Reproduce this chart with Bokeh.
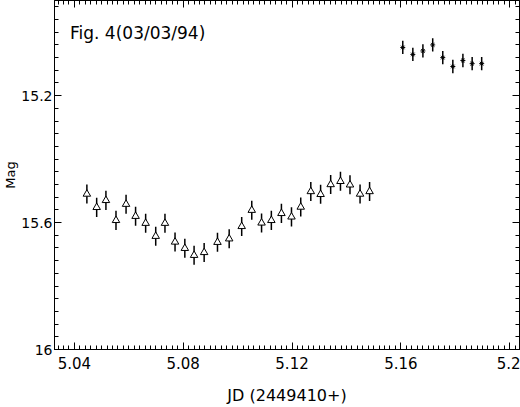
import numpy as np
from bokeh.plotting import figure
from bokeh.models import Range1d, LinearAxis, FixedTicker, ColumnDataSource, Label
from bokeh.embed import file_html
from bokeh.resources import INLINE

# ---- data ----
jd_tri = [5.0446, 5.0482, 5.0516, 5.0553, 5.0590, 5.0625, 5.0662, 5.0699, 5.0733,
          5.0770, 5.0806, 5.0840, 5.0877, 5.0926, 5.0969, 5.1015, 5.1052, 5.1088,
          5.1124, 5.1161, 5.1198, 5.1232, 5.1269, 5.1305, 5.1342, 5.1378, 5.1413,
          5.1450, 5.1485]
mag_tri = [15.510, 15.552, 15.530, 15.593, 15.542, 15.580, 15.602, 15.643, 15.602,
           15.661, 15.681, 15.703, 15.694, 15.662, 15.651, 15.612, 15.561, 15.601,
           15.593, 15.571, 15.582, 15.551, 15.502, 15.511, 15.480, 15.470, 15.481,
           15.510, 15.502]
err_tri = 0.030

jd_star = [5.1607, 5.1644, 5.1681, 5.1717, 5.1754, 5.1791, 5.1828, 5.1862, 5.1897]
mag_star = [15.048, 15.070, 15.059, 15.040, 15.080, 15.108, 15.089, 15.099, 15.099]
err_star = 0.021

x_major = [5.04, 5.08, 5.12, 5.16, 5.2]
x_labels = {5.2: "5.2"}
y_major = [15.2, 15.6, 16.0]
y_labels = {16: "16"}

title_text = "Fig. 4(03/03/94)"
x_title = "JD (2449410+)"
y_title = "Mag"

FONT = "DejaVu Sans"

p = figure(width=520, height=407, output_backend="svg", toolbar_location=None,
           x_range=Range1d(5.0327, 5.2036), y_range=Range1d(16.0, 14.9),
           x_axis_location=None, y_axis_location=None,
           min_border_left=46, min_border_right=1, min_border_top=0, min_border_bottom=0)
p.background_fill_color = "white"
p.border_fill_color = "white"
p.outline_line_color = "black"
p.grid.visible = False

x_minor = list(np.round(np.arange(5.030, 5.2041, 0.002), 3))
y_minor = list(np.round(np.arange(14.92, 16.001, 0.04), 2))
xt = FixedTicker(ticks=x_major, minor_ticks=x_minor)
yt = FixedTicker(ticks=y_major, minor_ticks=y_minor)


def style(ax, labels=True):
    ax.axis_line_color = "black"
    ax.major_tick_line_color = "black"
    ax.minor_tick_line_color = "black"
    ax.major_tick_in = 7
    ax.major_tick_out = 0
    ax.minor_tick_in = 4
    ax.minor_tick_out = 0
    if labels:
        ax.major_label_text_font = FONT
        ax.major_label_text_font_size = "15px"
        ax.major_label_text_color = "black"
    else:
        ax.major_label_text_font_size = "1px"
        ax.major_label_text_color = None
        ax.major_label_text_alpha = 0
        ax.major_label_standoff = 0


bottom = LinearAxis(ticker=xt, axis_label=x_title, major_label_overrides=x_labels)
style(bottom)
bottom.major_label_standoff = 7
bottom.axis_label_text_font = FONT
bottom.axis_label_text_font_size = "16px"
bottom.axis_label_text_font_style = "normal"
bottom.axis_label_text_color = "black"
bottom.axis_label_standoff = 14
p.add_layout(bottom, "below")

left = LinearAxis(ticker=yt, major_label_overrides=y_labels, axis_label=y_title)
style(left)
left.major_label_text_font_size = "14px"
left.major_label_standoff = 2
left.axis_label_text_font = FONT
left.axis_label_text_font_size = "13px"
left.axis_label_text_font_style = "normal"
left.axis_label_text_color = "black"
left.axis_label_standoff = 0
p.add_layout(left, "left")

top = LinearAxis(ticker=xt)
style(top, labels=False)
p.add_layout(top, "above")

right = LinearAxis(ticker=yt)
style(right, labels=False)
p.add_layout(right, "right")

# error bars and points
src_t = ColumnDataSource(dict(x=jd_tri, y=mag_tri,
                              lo=[m - err_tri for m in mag_tri],
                              hi=[m + err_tri for m in mag_tri]))
src_s = ColumnDataSource(dict(x=jd_star, y=mag_star,
                              lo=[m - err_star for m in mag_star],
                              hi=[m + err_star for m in mag_star]))
p.segment(x0="x", y0="lo", x1="x", y1="hi", source=src_t, line_color="black", line_width=1.5)
p.segment(x0="x", y0="lo", x1="x", y1="hi", source=src_s, line_color="black", line_width=1.5)
p.scatter(x="x", y="y", source=src_t, marker="triangle", size=7.5,
          fill_color="white", line_color="black", line_width=1)
p.scatter(x="x", y="y", source=src_s, marker="asterisk", size=5,
          line_color="black", line_width=1)

p.add_layout(Label(x=5.0384, y=15.002, text=title_text, text_font=FONT,
                   text_font_size="17px", text_color="black",
                   text_align="left", text_baseline="alphabetic"))

open("out.html", "w").write(file_html(p, INLINE))
